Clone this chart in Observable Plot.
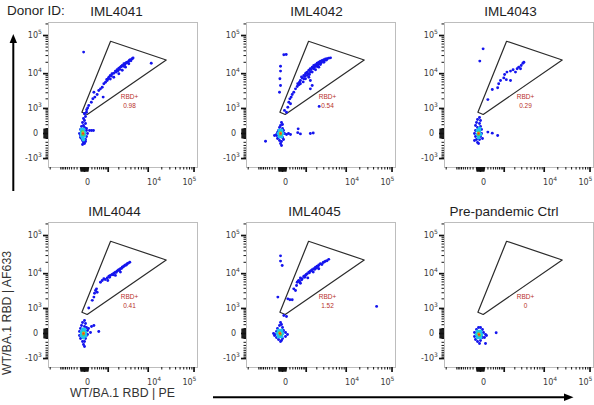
<!DOCTYPE html>
<html><head><meta charset="utf-8">
<script src="https://cdn.jsdelivr.net/npm/d3@7"></script>
<script src="https://cdn.jsdelivr.net/npm/@observablehq/plot@0.6"></script>
<style>
body{margin:0;background:#fff;}
#fig{position:relative;width:594px;height:405px;overflow:hidden;background:#fff;}
.panel{position:absolute;width:198px;height:200px;}
#overlay{position:absolute;left:0;top:0;pointer-events:none;}
</style></head><body><div id="fig"></div>
<script>
// ---------- data ----------
const panelNames = ["IML4041","IML4042","IML4043","IML4044","IML4045","Pre-pandemic Ctrl"];
const rbdValues = ["0.98","0.54","0.29","0.41","1.52","0"];
const gateLabel = "RBD+";
// gate polygon (PE, AF633)
const gateX = [-62, 1180, 25000, 64, -62];
const gateY = [740, 71000, 23000, 610, 740];
// axis ticks and labels (base + exponent)
const yMajorTicks = [-1000, 0, 1000, 10000, 100000];
const yTickBase = ["-10", "0", "10", "10", "10"];
const yTickExp = ["3", "", "3", "4", "5"];
const xMajorTicks = [0, 1000, 10000, 100000];
const xLabelTicks = [0, 10000, 100000];
const xTickBase = ["0", "10", "10"];
const xTickExp = ["", "4", "5"];
const minorMultipliers = [1, 2, 3, 4, 5, 6, 7, 8, 9];

// events [PE, AF633]
const iml4041Events = [
 [-20,37000],[11700,18900],
 [0,650],[46,740],[75,1030],[50,900],[105,1250],[180,1580],[230,2010],[300,2250],[265,3100],[390,2680],[460,3470],[540,3870],[630,4300],[720,5330],[820,5900],[930,6570],[900,7000],[1000,7300],[1050,8000],[1160,9000],[1250,8600],[1300,9950],[1460,10300],[1460,8000],[1160,7150],[680,2250],[1620,11700],[1700,11000],[1800,12700],[1900,12000],[2000,13950],[2000,9950],[2100,13000],[2200,14900],[2300,15500],[2450,16400],[2450,12300],[2600,15800],[2700,18300],[2850,17300],[2960,18900],[2960,14900],[3100,19500],[3260,20100],[3400,19800],[3560,21500],[3560,18300],[3700,22600],[3890,23400],[4000,22000],[4280,24800],[4500,26000],
 [0,665],[23,508],[-23,418],[0,339],[-46,268],[23,236],[-23,177],[-72,150],[0,125],[46,100],[-98,78],[-72,37],[-126,0],[-98,-37],[-72,-100],[-46,-150],[-23,-205],[0,-236],[23,-125],[46,-57],[72,0],[46,57],[-98,-78],[23,-177],[-46,-268],[126,57],[186,57],[250,57]
];
const iml4041Core = [[-72,78,1],[-23,78,1],[-72,18,1],[0,18,1],[-72,-37,1],[0,-37,1],[-46,-78,1],[-23,-125,1],[-46,37,2],[-23,-18,2],[-46,-18,2],[-35,9,3],[-35,0,4]];

const iml4042Events = [
 [30,31500],[90,32000],[-46,15800],[-46,11700],[-62,7280],[-46,4800],[-72,3110],
 [46,860],[98,740],[135,1100],[165,1580],[197,2000],[240,2250],[277,2680],[335,3100],[405,3870],[480,4500],[505,5330],[590,5900],[640,6570],[740,7700],[840,9000],[950,9950],[1080,11000],[1200,12300],[1330,13500],[1500,14900],[1660,16400],[1850,17400],[2040,18900],[2250,20100],[2480,21500],[2750,22400],[3020,23400],[3320,24300],[3640,24800],[3960,25700],[4370,26200],
 [640,5330],[840,7280],[1080,9000],[1330,11000],[1660,13500],[2040,15500],[2480,17400],[3020,20100],[1850,12700],[1200,8000],[2250,14900],[1500,11000],[950,7280],
 [700,8200],[900,8500],[1000,10500],[1150,10000],[1400,12800],[1600,14200],[1750,15000],[1950,16200],[2150,17000],[2350,18500],[2600,19500],[2900,21000],[3200,22500],[3500,23000],[1250,9500],[800,6000],[560,5000],
 [1330,6570],[1500,4800],[1330,3870],[218,1420],
 [505,15],[640,-7],[1330,0],[1600,8],[525,93],[-590,-169],[2300,1170],
 [-23,268],[0,205],[-46,177],[-72,125],[0,100],[-98,57],[23,57],[-126,18],[46,0],[-155,-18],[-218,-37],[-155,-37],[98,-18],[155,0],[218,-18],[-98,-78],[0,-78],[-72,-150],[-23,-177],[-46,-236],[-23,-302],[23,-125],[-126,-100]
];
const iml4042Core = [[-72,57,1],[-23,57,1],[-98,0,1],[0,0,1],[-72,-57,1],[-23,-57,1],[-46,18,2],[-46,-18,2],[-46,5,3],[-46,0,4]];

const iml4043Events = [
 [62,45000],[-16,21500],
 [197,1900],[355,3700],[600,4150],[655,5330],[758,6570],[970,7700],[1030,9500],[1160,6900],[1210,11000],[1530,6570],[1530,11700],[1800,12700],[2080,11000],[2300,13500],[2520,14900],[2900,16400],[3200,18900],[3380,20100],[2795,13500],
 [197,25],[355,6],[600,-37],
 [-23,462],[-72,378],[0,339],[-98,268],[-23,236],[-126,177],[0,150],[-72,125],[23,78],[-126,57],[-155,0],[23,0],[-126,-57],[0,-57],[-98,-125],[-23,-125],[-72,-205],[-46,-236],[-155,-150],[46,-100]
];
const iml4043Core = [[-72,57,1],[-23,57,1],[-72,-18,1],[0,-18,1],[-46,-78,1],[-23,100,1],[-46,18,2],[-46,-18,2],[-46,5,3],[-46,0,4]];

const iml4044Events = [
 [105,1040],[210,1800],[265,2250],[288,2900],[325,3470],[364,3870],[390,3100],[540,5900],[630,6570],[720,7280],[930,7700],[1050,8500],[1160,9000],[1300,9500],[1460,10300],[1620,11000],[1800,11700],[2000,12700],[2200,13500],[2450,14900],[2700,15800],[2960,17100],[3260,18300],[3760,20100],[970,6570],[1620,9000],[2200,11000],
 [800,7000],[1100,8000],[1400,9300],[1700,10800],[1900,12200],[2100,12500],[2350,13800],[2550,15000],[2850,16600],[3100,17000],[3450,19000],
 [460,37],[265,177],[186,150],
 [0,339],[-46,268],[23,236],[-72,177],[0,150],[46,125],[-98,100],[-126,37],[72,57],[98,100],[155,18],[-126,-37],[46,-37],[-98,-100],[23,-100],[-46,-177],[0,-177],[-23,-268],[0,-339],[72,-18]
];
const iml4044Core = [[-46,78,1],[0,78,1],[-72,18,1],[23,18,1],[-72,-37,1],[23,-37,1],[-23,-78,1],[-23,18,2],[-23,-18,2],[-23,5,3],[-23,0,4]];

const iml4045Events = [
 [-46,29500],[-46,21500],[-7,16400],[-116,2250],[46500,1170],
 [135,2000],[197,1880],[277,1880],[335,3870],[450,4800],[480,5900],[555,6570],[640,5500],[740,7280],[840,8500],[950,9000],[1080,9950],[1200,11000],[1330,11700],[1500,12700],[1660,13500],[1850,14900],[2040,15800],[2250,17100],[2480,18300],[2900,19700],[3320,21500],[3960,23900],[640,7700],[1120,7700],[1600,11000],[2250,13500],[405,3470],[525,6300],
 [900,8000],[1000,9500],[1250,10500],[1400,12000],[1750,13000],[1950,14000],[2150,15500],[2700,17500],[3100,20500],[3600,22000],[700,6800],[600,6000],
 [30,557],[98,510],
 [-46,268],[-23,205],[-72,177],[0,125],[-126,100],[23,57],[-155,37],[-250,0],[-186,-18],[72,18],[126,-18],[72,-57],[-155,-78],[-98,-125],[0,-100],[-46,-177],[-23,-150],[-218,-37]
];
const iml4045Core = [[-98,57,1],[-23,57,1],[-126,0,1],[0,0,1],[-98,-57,1],[-23,-57,1],[-72,18,2],[-46,-18,2],[-60,5,3],[-60,0,4]];

const ctrlEvents = [
 [525,12],[155,-37],
 [-46,125],[0,125],[-98,78],[46,78],[-155,18],[72,18],[126,-18],[-155,-57],[46,-78],[-126,-125],[0,-150],[-72,-177],[126,-236],[-23,-236],[98,-78]
];
const ctrlCore = [[-72,37,1],[0,37,1],[-98,-18,1],[23,-18,1],[-72,-78,1],[0,-78,1],[-46,0,2],[-23,-37,2],[-35,-12,3],[-35,-18,4]];

// ---------- drawing ----------
const xDomain = [-2213, 118800];
const yDomain = [-1911, 218000];
const within = (dom) => (v) => v >= dom[0] && v <= dom[1];

function buildTicks(decades, neg) {
  const out = [];
  for (const d of decades) for (const m of minorMultipliers) {
    out.push(m * d);
    if (neg) out.push(-m * d);
  }
  return out;
}
const linSmall = buildTicks([10], true);
const linMid = buildTicks([100], true);
const yLog = buildTicks([1000, 10000, 100000], false).filter(v => !yMajorTicks.includes(v)).filter(within(yDomain));
const xLog = buildTicks([1000, 10000, 100000], false).filter(v => !xMajorTicks.includes(v)).concat([-1000, -2000]).filter(within(xDomain));

const levelColors = {1: "#22c3ea", 2: "#4fd05a", 3: "#f3d21f", 4: "#e8461e"};
const levelRadius = {1: 1.9, 2: 1.6, 3: 1.4, 4: 1.2};
const blue = "#1515ee";

const panels = [
  {events: iml4041Events, core: iml4041Core},
  {events: iml4042Events, core: iml4042Core},
  {events: iml4043Events, core: iml4043Core},
  {events: iml4044Events, core: iml4044Core},
  {events: iml4045Events, core: iml4045Core},
  {events: ctrlEvents, core: ctrlCore}
];
const offsets = [[0,0],[198,0],[396,0],[0,200],[198,200],[396,200]];

const gate = gateX.map((x, j) => ({x, y: gateY[j]}));
const fig = document.getElementById("fig");
const labelFont = "DejaVu Sans, sans-serif";
const labelColor = "#3a3a3a";

panels.forEach((p, i) => {
  const tickY = (ticks, size, w) => Plot.axisY({ticks, tickSize: size, tickFormat: () => "", stroke: "#111", strokeWidth: w, label: null});
  const tickX = (ticks, size, w) => Plot.axisX({ticks, tickSize: size, tickFormat: () => "", stroke: "#111", strokeWidth: w, label: null});
  const xBase = (k, dx) => Plot.axisX({ticks: [xLabelTicks[k]], tickSize: 0, tickPadding: 12, dx, tickFormat: () => xTickBase[k], fill: labelColor, fontSize: 8, fontFamily: labelFont, label: null});
  const xExp = (k, dx) => Plot.axisX({ticks: [xLabelTicks[k]], tickSize: 0, tickPadding: 9, dx, textAnchor: "start", tickFormat: () => xTickExp[k], fill: labelColor, fontSize: 6, fontFamily: labelFont, label: null});
  const chart = Plot.plot({
    width: 198, height: 200,
    marginLeft: 48, marginRight: 1, marginTop: 22, marginBottom: 33,
    x: {type: "symlog", constant: 450, domain: xDomain, label: null},
    y: {type: "symlog", constant: 289, domain: yDomain, label: null},
    style: {background: "transparent", fontFamily: labelFont, fontSize: "8px", overflow: "visible"},
    marks: [
      Plot.frame({stroke: "#bdbdbd"}),
      tickY(linSmall, 4.5, 0.9),
      tickY(linMid, 2.5, 1),
      tickY(yLog, 2.5, 1),
      tickY(yMajorTicks, 5, 1.7),
      Plot.axisY({ticks: yMajorTicks, tickSize: 0, tickPadding: 10.5, textAnchor: "end", tickFormat: d => yTickBase[yMajorTicks.indexOf(d)], fill: labelColor, fontSize: 8, fontFamily: labelFont, label: null}),
      Plot.axisY({ticks: yMajorTicks, tickSize: 0, tickPadding: 10.5, dy: -3.5, textAnchor: "start", tickFormat: d => yTickExp[yMajorTicks.indexOf(d)], fill: labelColor, fontSize: 6, fontFamily: labelFont, label: null}),
      tickX(linSmall, 4.5, 0.9),
      tickX(linMid, 2.5, 1),
      tickX(xLog, 2.5, 1),
      tickX(xMajorTicks, 5, 1.7),
      xBase(0, 3), xBase(1, 4), xBase(2, -6.5),
      xExp(1, 9), xExp(2, -1.5),
      Plot.line(gate, {x: "x", y: "y", stroke: "#2b2b2b", strokeWidth: 1.2}),
      Plot.dot(p.events, {x: d => d[0], y: d => d[1], r: 1.45, fill: blue}),
      ...[1, 2, 3, 4].map(l => Plot.dot(p.core.filter(d => d[2] === l), {x: d => d[0], y: d => d[1], r: levelRadius[l], fill: levelColors[l]})),
      Plot.text([gateLabel], {x: 3700, y: 2250, text: d => d, fill: "#b8312a", fontSize: 6.5, fontFamily: "Liberation Sans, Arial, sans-serif"}),
      Plot.text([rbdValues[i]], {x: 3700, y: 1170, text: d => d, fill: "#b8312a", fontSize: 6.5, fontFamily: "Liberation Sans, Arial, sans-serif"})
    ]
  });
  const wrap = document.createElement("div");
  wrap.className = "panel";
  wrap.style.left = offsets[i][0] + "px";
  wrap.style.top = offsets[i][1] + "px";
  wrap.appendChild(chart);
  fig.appendChild(wrap);
});

// overlay: titles, axis titles, arrows
const titlePos = [[116.5,15.7],[316.5,15.7],[510.5,15.7],[114.5,215.7],[314.5,215.7],[504,215.7]];
const ns = "http://www.w3.org/2000/svg";
const ov = document.createElementNS(ns, "svg");
ov.setAttribute("id", "overlay");
ov.setAttribute("width", 594);
ov.setAttribute("height", 405);
let html = `<g font-family="Liberation Sans, Arial, sans-serif" fill="#1e1e1e">`;
html += `<text x="7" y="14.5" font-size="13.5">Donor ID:</text>`;
panelNames.forEach((n, i) => {
  html += `<text x="${titlePos[i][0]}" y="${titlePos[i][1]}" font-size="13.5" text-anchor="middle">${n}</text>`;
});
html += `<text transform="translate(11,313) rotate(-90)" font-size="12.3" text-anchor="middle" fill="#333">WT/BA.1 RBD | AF633</text>`;
html += `<text x="122.5" y="397" font-size="12.3" text-anchor="middle" fill="#333">WT/BA.1 RBD | PE</text>`;
html += `</g>`;
html += `<line x1="13.3" y1="191" x2="13.3" y2="42" stroke="#000" stroke-width="2"/>`;
html += `<path d="M9.6,43 L13.3,34 L17,43 Z" fill="#000"/>`;
html += `<line x1="213" y1="397.3" x2="565" y2="397.3" stroke="#000" stroke-width="2"/>`;
html += `<path d="M564,393.6 L573.5,397.3 L564,401 Z" fill="#000"/>`;
ov.innerHTML = html;
fig.appendChild(ov);
</script>
</body></html>
